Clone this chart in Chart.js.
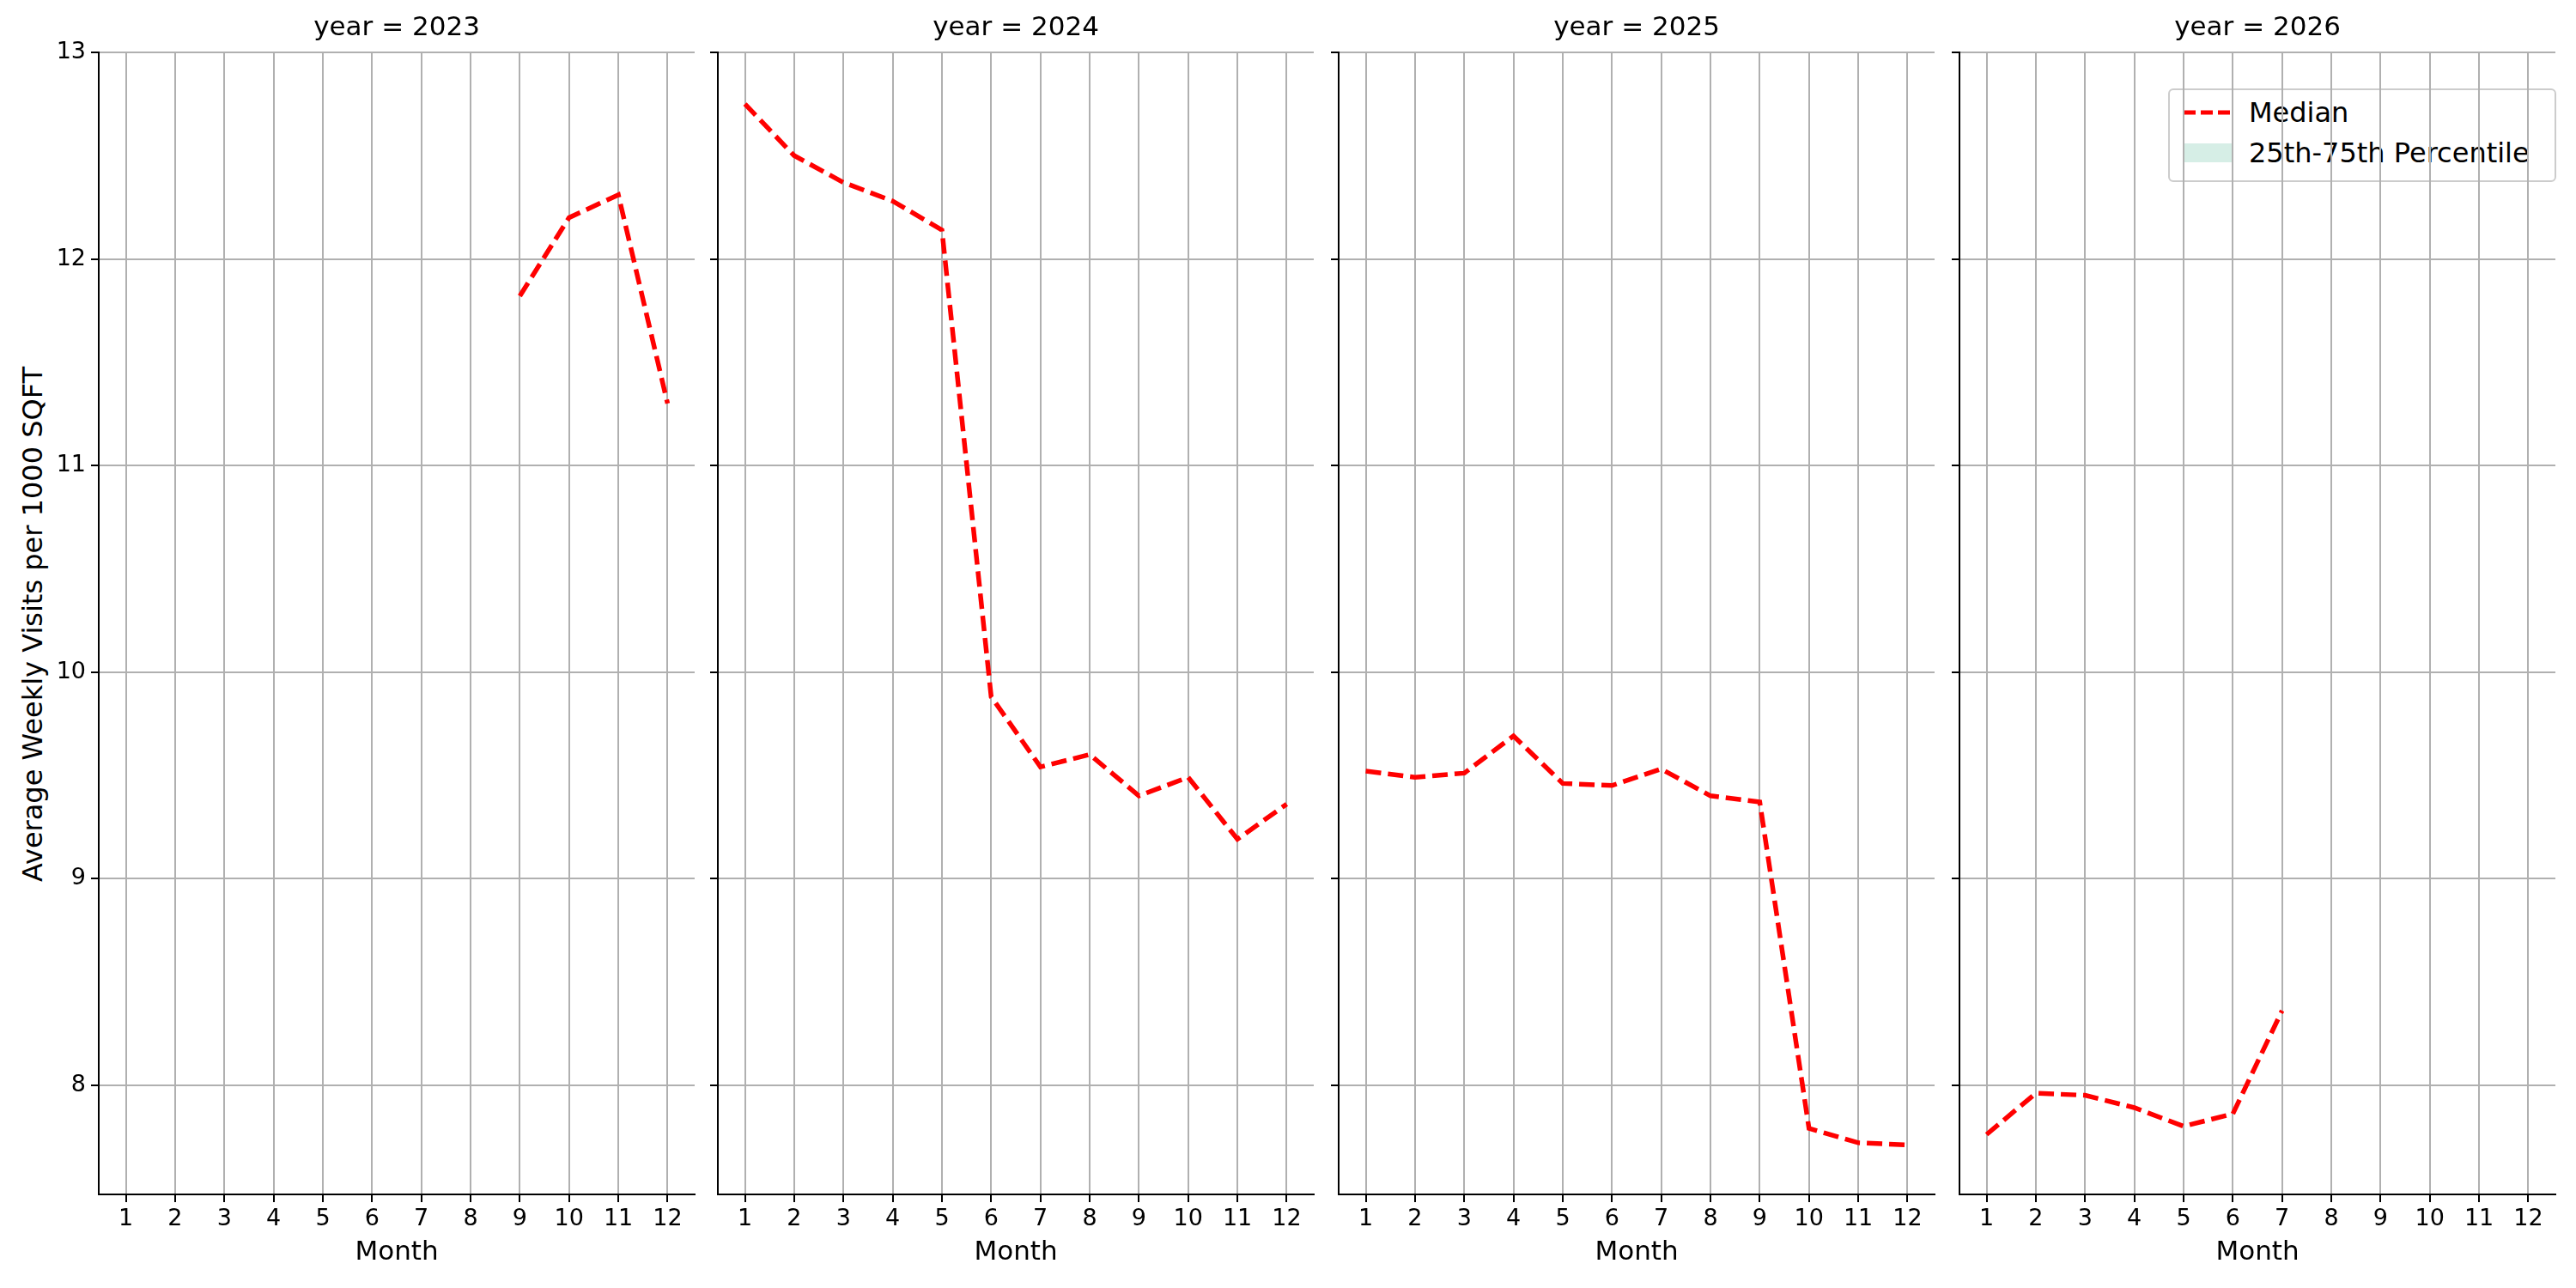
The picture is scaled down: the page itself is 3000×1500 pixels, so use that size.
<!DOCTYPE html>
<html><head><meta charset="utf-8">
<script src="https://cdn.jsdelivr.net/npm/chart.js@4/dist/chart.umd.min.js"></script>
<style>
body{margin:0;width:3000px;height:1500px;background:#fff;position:relative;font-family:"DejaVu Sans",sans-serif;overflow:hidden}
.cv{position:absolute;top:0}
.ttl{position:absolute;top:12px;font-size:31px;text-align:center;color:#000}
#ytitle{position:absolute;left:38px;top:727px;transform:translate(-50%,-50%) rotate(-90deg);font-size:32px;white-space:nowrap}
#legend{position:absolute;left:2525px;top:103px;width:452px;height:109px;border:2px solid #ccc;border-radius:6px;background:rgba(255,255,255,0.8);font-size:32px;box-sizing:border-box}
.li{position:absolute;left:14px;display:flex;align-items:center}
</style></head><body>
<div id="ytitle">Average Weekly Visits per 1000 SQFT</div>
<div id="legend">
 <div class="li" style="top:7px"><svg width="60" height="20"><line x1="2" y1="10" x2="58" y2="10" stroke="red" stroke-width="5" stroke-dasharray="14,6"/></svg><span style="margin-left:18px">Median</span></div>
 <div class="li" style="top:54px"><svg width="60" height="30"><rect x="2" y="4" width="56" height="22" fill="#d6eee6"/></svg><span style="margin-left:18px">25th-75th Percentile</span></div>
</div>
<script>
const years=[2023,2024,2025,2026];
const months=[1,2,3,4,5,6,7,8,9,10,11,12];
const median2023=[null,null,null,null,null,null,null,null,11.82,12.2,12.31,11.3];
const median2024=[12.75,12.5,12.37,12.28,12.14,9.88,9.54,9.6,9.4,9.49,9.19,9.36];
const median2025=[9.52,9.49,9.51,9.69,9.46,9.45,9.53,9.4,9.37,7.79,7.72,7.71];
const median2026=[7.76,7.96,7.95,7.89,7.8,7.86,8.36,null,null,null,null,null];
const yTicks=[8,9,10,11,12,13];
const series=[median2023,median2024,median2025,median2026];
const lefts=[115,836,1559,2282];
const PW=694, YW=80;
years.forEach((yr,i)=>{
  const c=document.createElement('canvas');
  c.className='cv';c.style.left=(lefts[i]-YW)+'px';
  c.style.width=(YW+PW+6)+'px';c.style.height='1500px';
  document.body.appendChild(c);
  const t=document.createElement('div');t.className='ttl';
  t.style.left=lefts[i]+'px';t.style.width=PW+'px';t.textContent='year = '+yr;
  document.body.appendChild(t);
  const pts=months.map((m,k)=>({x:m,y:series[i][k]})).filter(p=>p.y!==null);
  new Chart(c,{type:'line',
   data:{datasets:[{data:pts,borderColor:'red',borderWidth:5.5,borderDash:[18,8],pointRadius:0,fill:false,tension:0}]},
   options:{responsive:false,animation:false,devicePixelRatio:1,
    layout:{padding:{top:61,bottom:18,right:6,left:0}},
    plugins:{legend:{display:false},tooltip:{enabled:false}},
    scales:{
     x:{type:'linear',min:0.45,max:12.55,
      afterBuildTicks:a=>{a.ticks=months.map(v=>({value:v}));},
      afterFit:a=>{a.height=91;},
      grid:{color:'#b0b0b0',lineWidth:2,tickLength:9,tickColor:'#000'},
      border:{color:'#000',width:2},
      ticks:{font:{size:27,family:'DejaVu Sans'},color:'#000',maxRotation:0,autoSkip:false,padding:4},
      title:{display:true,text:'Month',font:{size:31,family:'DejaVu Sans'},color:'#000',padding:{top:2}}},
     y:{type:'linear',min:7.47,max:13,
      afterBuildTicks:a=>{a.ticks=yTicks.map(v=>({value:v}));},
      afterFit:a=>{a.width=YW;},
      grid:{color:'#b0b0b0',lineWidth:2,tickLength:9,tickColor:'#000'},
      border:{color:'#000',width:2},
      ticks:{font:{size:27,family:'DejaVu Sans'},color:'#000',padding:6,
        callback:v=>i===0?String(v):''}}
    }}});
});
</script></body></html>
